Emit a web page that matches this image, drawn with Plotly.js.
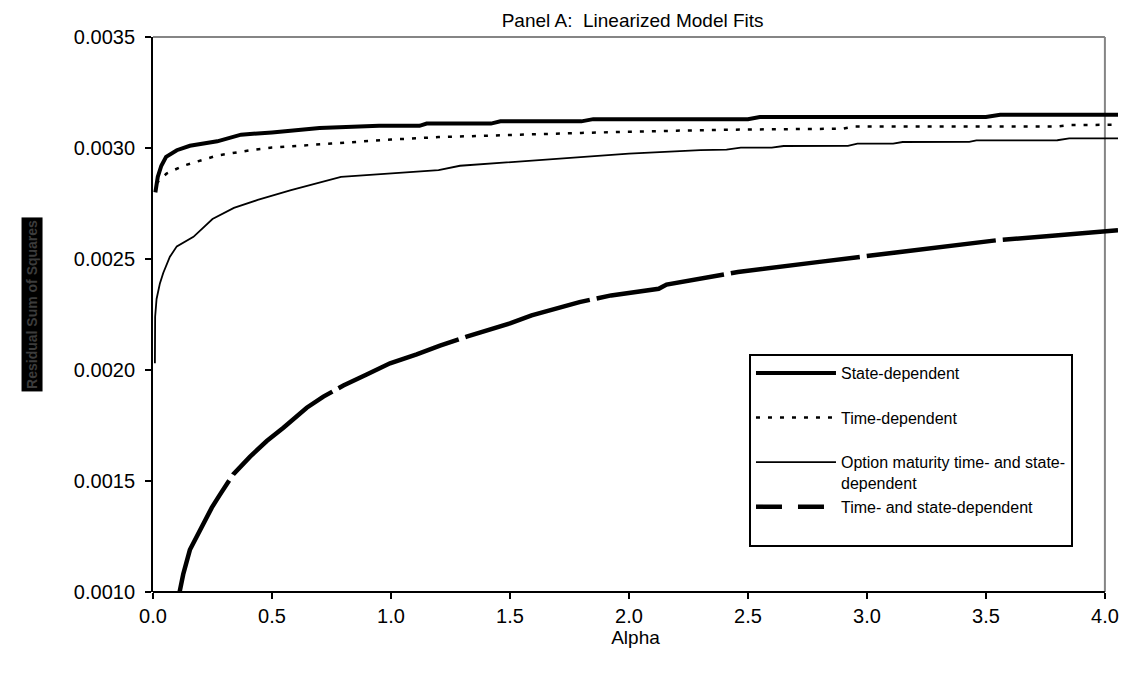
<!DOCTYPE html>
<html>
<head>
<meta charset="utf-8">
<script src="https://cdn.plot.ly/plotly-3.0.1.min.js"></script>
<style>html,body{margin:0;padding:0;background:#fff;}#chart{width:1126px;height:675px;}</style>
</head>
<body>
<div id="chart"></div>
<script>
// ---- Data ----
var seriesNames = [
  "State-dependent",
  "Time-dependent",
  "Option maturity time- and state-dependent",
  "Time- and state-dependent"
];

var stateAlpha = [0.01, 0.02, 0.035, 0.055, 0.10, 0.155, 0.27, 0.37, 0.50, 0.70, 0.95, 1.12, 1.15, 1.42, 1.46, 1.80, 1.85, 2.50, 2.55, 3.50, 3.56, 4.055];
var stateRSS   = [0.00280, 0.00287, 0.00292, 0.00296, 0.00299, 0.00301, 0.00303, 0.00306, 0.00307, 0.00309, 0.00310, 0.00310, 0.00311, 0.00311, 0.00312, 0.00312, 0.00313, 0.00313, 0.00314, 0.00314, 0.00315, 0.00315];

var timeAlpha = [0.013, 0.057, 0.127, 0.20, 0.27, 0.41, 0.50, 0.75, 1.00, 1.20, 1.50, 1.80, 2.20, 2.47, 2.90, 2.95, 3.80, 3.85, 4.055];
var timeRSS   = [0.00284, 0.002885, 0.00292, 0.002944, 0.002966, 0.00299, 0.003002, 0.00302, 0.003038, 0.003049, 0.00306, 0.003068, 0.003078, 0.003083, 0.003087, 0.003097, 0.003097, 0.003103, 0.003105];

var optionAlpha = [0.008, 0.009, 0.015, 0.029, 0.043, 0.071, 0.10, 0.17, 0.25, 0.34, 0.44, 0.58, 0.79, 1.00, 1.20, 1.29, 1.60, 2.00, 2.30, 2.41, 2.47, 2.60, 2.65, 2.92, 2.96, 3.11, 3.15, 3.43, 3.46, 3.80, 3.85, 4.055];
var optionRSS   = [0.00203, 0.00224, 0.00232, 0.00239, 0.002437, 0.00251, 0.002557, 0.0026, 0.00268, 0.00273, 0.002766, 0.00281, 0.00287, 0.002885, 0.0029, 0.00292, 0.002945, 0.002975, 0.00299, 0.002993, 0.003002, 0.003002, 0.003009, 0.00301, 0.00302, 0.00302, 0.003027, 0.003028, 0.003034, 0.003035, 0.003043, 0.003043];

var tsAlpha = [0.106, 0.127, 0.155, 0.197, 0.247, 0.282, 0.337, 0.408, 0.478, 0.548, 0.604, 0.646, 0.716, 0.80, 0.898, 0.996, 1.108, 1.206, 1.318, 1.50, 1.591, 1.792, 1.925, 2.125, 2.158, 2.458, 2.792, 3.042, 3.292, 3.542, 3.792, 3.926, 4.055];
var tsRSS   = [0.00097, 0.00108, 0.00119, 0.00128, 0.00138, 0.00144, 0.00153, 0.00161, 0.00168, 0.00174, 0.00179, 0.00183, 0.00188, 0.00193, 0.00198, 0.00203, 0.00207, 0.00211, 0.00215, 0.00221, 0.002246, 0.002306, 0.002336, 0.002366, 0.002385, 0.002441, 0.002486, 0.002519, 0.002553, 0.002584, 0.002606, 0.002616, 0.00263];

var xTickVals   = [0, 0.5, 1.0, 1.5, 2.0, 2.5, 3.0, 3.5, 4.0];
var xTickLabels = ["0.0", "0.5", "1.0", "1.5", "2.0", "2.5", "3.0", "3.5", "4.0"];
var yTickVals   = [0.0010, 0.0015, 0.0020, 0.0025, 0.0030, 0.0035];
var yTickLabels = ["0.0010", "0.0015", "0.0020", "0.0025", "0.0030", "0.0035"];

var titleText = "Panel A:\u00a0 Linearized Model Fits";
var xTitle = "Alpha";
var yTitle = "Residual Sum of Squares";

// ---- Chart ----
var FONT = 'Arial, "Liberation Sans", sans-serif';
var NB = "\u00a0";

var traces = [
  {x: stateAlpha, y: stateRSS, type: 'scatter', mode: 'lines', name: seriesNames[0] + '<br>' + NB,
   line: {color: '#000', width: 4}},
  {x: timeAlpha, y: timeRSS, type: 'scatter', mode: 'lines', name: seriesNames[1] + '<br>' + NB,
   line: {color: '#000', width: 2.5, dash: '4px,8px'}},
  {x: optionAlpha, y: optionRSS, type: 'scatter', mode: 'lines', name: 'Option maturity time- and state-<br>dependent',
   line: {color: '#000', width: 1.8}},
  {x: tsAlpha, y: tsRSS, type: 'scatter', mode: 'lines', name: seriesNames[3] + '<br>' + NB,
   legendgroup: 'ts', showlegend: false,
   line: {color: '#000', width: 4.5, dash: '130px,7px'}},
  {x: [null], y: [null], type: 'scatter', mode: 'lines', name: seriesNames[3] + '<br>' + NB,
   legendgroup: 'ts', showlegend: true,
   line: {color: '#000', width: 4.5, dash: '26px,16px'}}
];

var layout = {
  width: 1126, height: 675,
  margin: {l: 153, r: 8, t: 37, b: 83, pad: 0},
  paper_bgcolor: '#fff', plot_bgcolor: '#fff',
  font: {family: FONT, color: '#000', size: 16},
  showlegend: true,
  title: {text: titleText, font: {family: FONT, size: 19, color: '#000'},
          xref: 'paper', x: 0.497, xanchor: 'center', yref: 'container', y: 0.97, yanchor: 'middle'},
  xaxis: {
    range: [0, 4.055], autorange: false,
    tickmode: 'array', tickvals: xTickVals, ticktext: xTickLabels,
    ticks: 'outside', ticklen: 6, tickwidth: 2, tickcolor: '#000',
    tickfont: {family: FONT, size: 20, color: '#000'},
    showline: false, showgrid: false, zeroline: false,
    title: {text: xTitle, font: {family: FONT, size: 19, color: '#000'}, standoff: 3}
  },
  xaxis2: {
    overlaying: 'x', matches: 'x', anchor: 'y',
    tickmode: 'array', tickvals: xTickVals, ticks: 'inside', ticklen: 6, tickwidth: 2, tickcolor: '#000',
    showticklabels: false, showline: false, showgrid: false, zeroline: false
  },
  yaxis: {
    range: [0.0010, 0.0035], autorange: false,
    tickmode: 'array', tickvals: yTickVals, ticktext: yTickLabels,
    ticks: 'outside', ticklen: 6, tickwidth: 2, tickcolor: '#000',
    ticklabelstandoff: 6,
    tickfont: {family: FONT, size: 20, color: '#000'},
    showline: true, linecolor: '#000', linewidth: 2,
    showgrid: false, zeroline: false
  },
  yaxis2: {
    overlaying: 'y', matches: 'y', anchor: 'x', side: 'left',
    tickmode: 'array', tickvals: yTickVals, ticks: 'inside', ticklen: 6, tickwidth: 2, tickcolor: '#000',
    showticklabels: false, showline: false, showgrid: false, zeroline: false
  },
  shapes: [
    {type: 'line', xref: 'x', yref: 'paper', x0: 0, x1: 4, y0: 0, y1: 0, line: {color: '#000', width: 2}, layer: 'above'},
    {type: 'line', xref: 'x', yref: 'paper', x0: 0, x1: 4, y0: 1, y1: 1, line: {color: '#858585', width: 2}, layer: 'below'},
    {type: 'line', xref: 'x', yref: 'paper', x0: 4, x1: 4, y0: 0, y1: 1, line: {color: '#858585', width: 2}, layer: 'below'}
  ],
  legend: {
    x: 0.6176, xanchor: 'left', y: 0.4288, yanchor: 'top',
    bgcolor: '#fff', bordercolor: '#000', borderwidth: 2,
    font: {family: FONT, size: 16, color: '#000'},
    valign: 'top', itemwidth: 80, tracegroupgap: 0,
    traceorder: 'normal'
  },
  annotations: [
    {text: '<b>' + yTitle + '</b>', xref: 'paper', yref: 'paper', x: -0.1254, y: 0.519,
     xanchor: 'center', yanchor: 'middle', textangle: -90, showarrow: false,
     font: {family: FONT, size: 14, color: '#3c3c3c'}, bgcolor: '#000', borderpad: 2}
  ],
  hovermode: false
};

Plotly.newPlot('chart', traces, layout, {displayModeBar: false, staticPlot: true});
</script>
</body>
</html>
